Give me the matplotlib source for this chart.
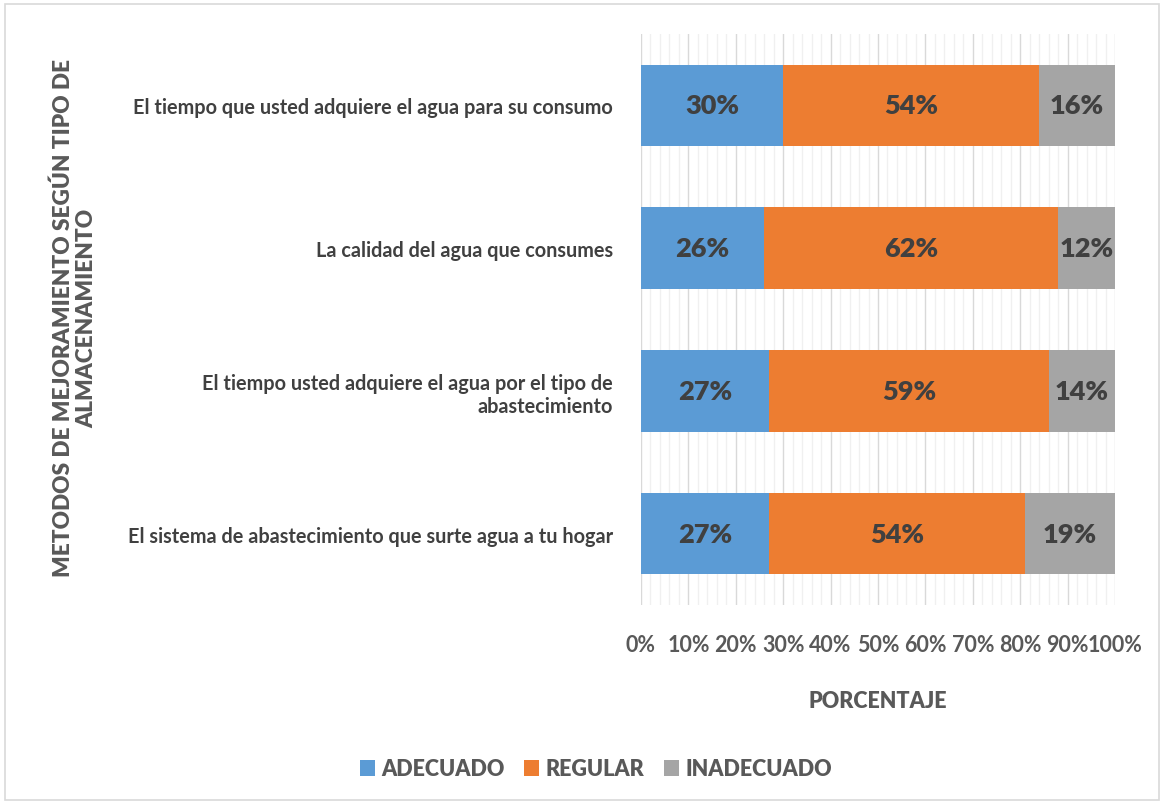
import numpy as np
import matplotlib.pyplot as plt
from matplotlib.patches import Rectangle
from matplotlib.ticker import MultipleLocator, PercentFormatter

categorias = [
    "El tiempo que usted adquiere el agua para su consumo",
    "La calidad del agua que consumes",
    "El tiempo usted adquiere el agua por el tipo de\nabastecimiento",
    "El sistema de abastecimiento que surte agua a tu hogar",
]
adecuado = [30, 26, 27, 27]
regular = [54, 62, 59, 54]
inadecuado = [16, 12, 14, 19]

series = ["ADECUADO", "REGULAR", "INADECUADO"]
colores = ["#5b9bd5", "#ed7d31", "#a5a5a5"]

plt.rcParams['font.family'] = ['Lato', 'DejaVu Sans']
plt.rcParams['font.weight'] = 'bold'
plt.rcParams['axes.labelweight'] = 'bold'

fig = plt.figure(figsize=(11.64, 8.03), dpi=100)
ax = fig.add_axes([641 / 1164, 1 - 606 / 803, 474 / 1164, 571 / 803])

# borde del grafico
fig.patches.append(Rectangle((5 / 1164, 2 / 803), 1154 / 1164, 796 / 803,
                             transform=fig.transFigure, fill=False,
                             edgecolor="#d9d9d9", linewidth=1.2))

y = np.arange(len(categorias))
izq = np.zeros(len(categorias))
for nombre, vals, col in zip(series, [adecuado, regular, inadecuado], colores):
    barras = ax.barh(y, vals, left=izq, height=0.57, color=col, label=nombre, zorder=3)
    ax.bar_label(barras, labels=[f"{v}%" for v in vals], label_type='center',
                 fontsize=19.5, fontweight='heavy', color="#404040")
    izq += np.array(vals)

ax.set_xlim(0, 100)
ax.set_ylim(3.5, -0.5)
ax.set_yticks(y)
ax.set_yticklabels(categorias, fontsize=14.3, color="#404040", ha='right',
                   multialignment='right')
ax.xaxis.set_major_locator(MultipleLocator(10))
ax.xaxis.set_minor_locator(MultipleLocator(2))
ax.xaxis.set_major_formatter(PercentFormatter(decimals=0))
ax.tick_params(axis='x', which='both', length=0, labelsize=15.5, labelcolor="#595959", pad=21)
ax.tick_params(axis='y', length=0, pad=20)
ax.grid(axis='x', which='major', color="#d9d9d9", linewidth=1, zorder=0)
ax.grid(axis='x', which='minor', color="#f0f0f0", linewidth=1, zorder=0)
for s in ax.spines.values():
    s.set_visible(False)

ax.set_xlabel("PORCENTAJE", fontsize=15.5, color="#595959", labelpad=25,
              fontweight='heavy')
fig.text(75 / 1164, 1 - 318 / 803, "METODOS DE MEJORAMIENTO SEGÚN TIPO DE\nALMACENAMIENTO",
         rotation=90, ha='center', va='center', fontsize=16.3, color="#595959",
         multialignment='center', fontweight='heavy', linespacing=1.1)

fig.legend(loc='center', bbox_to_anchor=(596 / 1164, 1 - 770 / 803), ncol=3, frameon=False,
           prop={'size': 15.5, 'weight': 'heavy'}, labelcolor="#595959",
           handlelength=0.7, handleheight=0.7, handletextpad=0.3, columnspacing=0.9)

fig.savefig("out.png", dpi=100)
